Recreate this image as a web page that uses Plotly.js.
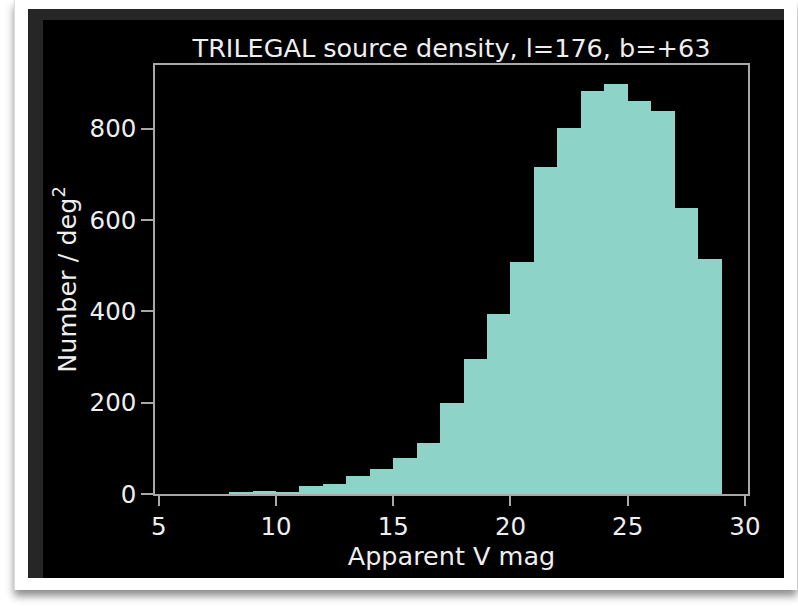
<!DOCTYPE html>
<html>
<head>
<meta charset="utf-8">
<script src="https://cdn.plot.ly/plotly-3.0.1.min.js"></script>
<style>
  html, body { margin: 0; padding: 0; background: #ffffff; }
  #wrap { position: relative; width: 798px; height: 606px; overflow: hidden; background: #ffffff; }
  #card { position: absolute; left: 14px; top: 0px; width: 782px; height: 590px; background: #fff;
          box-shadow: 0 6px 8px rgba(0,0,0,0.45); border-left: 1px solid #ddd; }
  #outer { position: absolute; left: 28px; top: 9px; width: 756px; height: 569px; background: #262626; }
  #inner { position: absolute; left: 43px; top: 20px; width: 741px; height: 558px; background: #000; }
  #chart { position: absolute; left: 0; top: 0; width: 798px; height: 606px; }
</style>
</head>
<body>
<div id="wrap">
  <div id="card"></div>
  <div id="outer"></div>
  <div id="inner"></div>
  <div id="chart"></div>
</div>
<script>
// Histogram bins (left edges, width 1 mag) and density values
const binLeftEdges = [6, 7, 8, 9, 10, 11, 12, 13, 14, 15, 16, 17, 18, 19, 20, 21, 22, 23, 24, 25, 26, 27, 28];
const counts       = [0, 0, 4, 7, 4, 18, 21, 40, 55, 78, 111, 200, 295, 395, 509, 717, 801, 883, 899, 862, 840, 626, 515];
const binWidth = 1;
const xTickVals = [5, 10, 15, 20, 25, 30];
const yTickVals = [0, 200, 400, 600, 800];

const titleText = "TRILEGAL source density, l=176, b=+63";
const xTitle = "Apparent V mag";
const yTitle = "Number / deg<sup>2</sup>";

const fg = "#eeeeee";
const axisColor = "#a8a8a8";
const font = "DejaVu Sans, sans-serif";

const trace = {
  type: "bar",
  x: binLeftEdges.map(v => v + binWidth / 2),
  y: counts,
  width: binWidth,
  marker: { color: "#8dd3c7", line: { width: 0 } },
  hoverinfo: "x+y"
};

const layout = {
  width: 798,
  height: 606,
  paper_bgcolor: "rgba(0,0,0,0)",
  plot_bgcolor: "#000000",
  margin: { l: 155, r: 50, t: 65, b: 112, pad: 0 },
  bargap: 0,
  showlegend: false,
  font: { family: font, color: fg, size: 25 },
  title: {
    text: titleText,
    font: { family: font, size: 25.5, color: fg },
    x: 0.5, xref: "paper", xanchor: "center",
    y: 1 - 48 / 606, yanchor: "middle", yref: "container"
  },
  xaxis: {
    range: [4.84, 30.13],
    tickvals: xTickVals,
    ticktext: xTickVals.map(String),
    ticks: "outside", ticklen: 10, tickwidth: 1.5, tickcolor: axisColor,
    showline: true, linecolor: axisColor, linewidth: 1.5, mirror: true,
    showgrid: false, zeroline: false,
    tickfont: { family: font, size: 24.5, color: fg },
    title: { text: xTitle, font: { family: font, size: 25.5, color: fg }, standoff: 4 }
  },
  yaxis: {
    range: [0, 940],
    tickvals: yTickVals,
    ticktext: yTickVals.map(String),
    ticks: "outside", ticklen: 12, tickwidth: 1.5, tickcolor: axisColor,
    showline: true, linecolor: axisColor, linewidth: 1.5, mirror: true,
    showgrid: false, zeroline: false,
    tickfont: { family: font, size: 24.5, color: fg },
    title: { text: yTitle, font: { family: font, size: 25.5, color: fg }, standoff: 6 }
  }
};

Plotly.newPlot("chart", [trace], layout, { displayModeBar: false, staticPlot: false });
</script>
</body>
</html>
